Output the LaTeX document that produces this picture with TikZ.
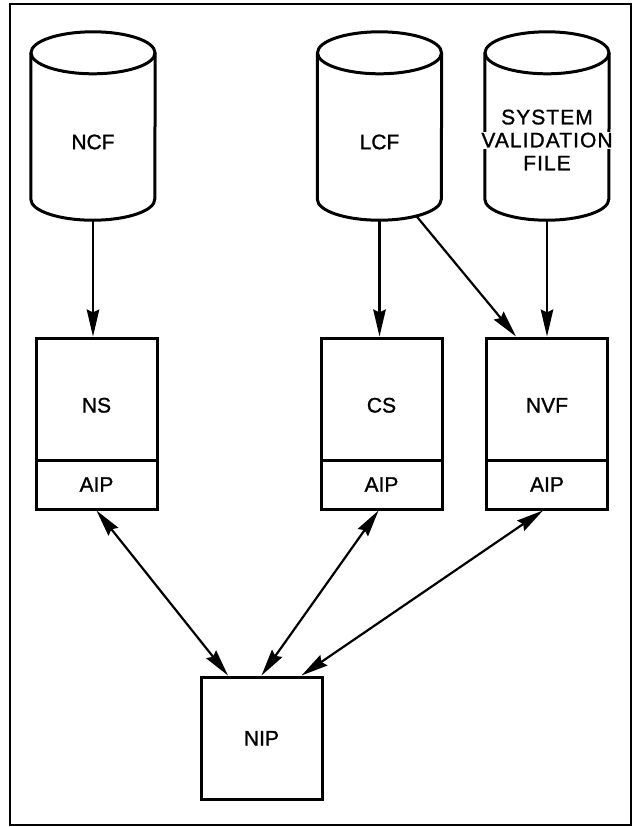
\documentclass[tikz,border=0pt]{standalone}
\usepackage{fontspec}
\setmainfont{Liberation Sans}[FakeBold=1.2]
\usetikzlibrary{calc,arrows.meta}
\setlength{\fboxsep}{1pt}

% outline of a storage drum spanning the extent of an invisible node
\newcommand\drumoutline[1]{%
  \draw[drumline] ($(#1.north)+(0,21)$) ellipse [x radius=62pt, y radius=21pt];
  \draw[drumline] ($(#1.north west)+(0,21)$) -- ($(#1.south west)+(0,-21)$)
    arc [start angle=180, end angle=360, x radius=62pt, y radius=21pt]
    -- ($(#1.north east)+(0,21)$);
}

\begin{document}
\begin{tikzpicture}[x=1pt, y=-1pt,
  font=\fontsize{21}{23}\selectfont,
  frame/.style={line width=2.6pt},
  store/.style={minimum width=124pt, minimum height=188pt, inner sep=0pt},
  drumline/.style={line width=3pt},
  storetext/.style={align=center, inner sep=0pt},
  proc/.style={draw, line width=3pt, minimum width=121pt, minimum height=122pt,
    inner sep=0pt, text height=27pt, text depth=0pt},
  port/.style={draw, line width=3pt, minimum width=121pt, minimum height=49pt,
    inner sep=0pt},
  headtip/.tip={Stealth[length=27pt, width=12.5pt, inset=3pt]},
  flow/.style={line width=2.2pt, -headtip},
  duplex/.style={line width=2.2pt, headtip-headtip},
]
\useasboundingbox (0,0) rectangle (635,827);
\draw[frame] (10,4) rectangle (631,825);

% storage files
\node[store] (ncf) at (93,126) {};
\node[store] (lcf) at (379.5,126) {};
\node[store] (svf) at (547,126) {};
\drumoutline{ncf}
\drumoutline{lcf}
\drumoutline{svf}
\node[storetext] (ncf-text) at ($(ncf.center)+(0,16)$) {NCF};
\node[storetext] (lcf-text) at ($(lcf.center)+(0,16)$) {LCF};
\node[storetext, font=\fontsize{21}{23}\selectfont\addfontfeatures{LetterSpace=5}]
  (svf-text) at ($(svf.center)+(0,14)$) {SYSTEM\\\colorbox{white}{VALIDATION}\\FILE};

% processes with their AIP interfaces
\node[proc] (ns) at (96.5,399) {NS};
\node[port] (nsa) at (96.5,484.5) {AIP};
\node[proc] (cs) at (381.5,399) {CS};
\node[port] (csa) at (381.5,484.5) {AIP};
\node[proc] (nvf) at (547,399) {NVF};
\node[port] (nvfa) at (547,484.5) {AIP};

\node[proc, text height=15pt] (nip) at (261.5,738) {NIP};

% file accesses
\coordinate (lcf-tap) at ($(lcf.south)+(37,-4)$);
\draw[flow] (ncf.south) -- (ncf.south |- ns.north);
\draw[flow] (lcf.south) -- (lcf.south |- cs.north);
\draw[flow] (lcf-tap) -- ([xshift=31pt]nvf.north west);
\draw[flow] (svf.south) -- (svf.south |- nvf.north);

% links to NIP
\draw[duplex] (nsa.south) -- ([xshift=-33.5pt]nip.north);
\draw[duplex] ([xshift=-3pt]csa.south) -- (nip.north);
\draw[duplex] ([xshift=-4pt]nvfa.south) -- ([xshift=40pt]nip.north);
\end{tikzpicture}
\end{document}
